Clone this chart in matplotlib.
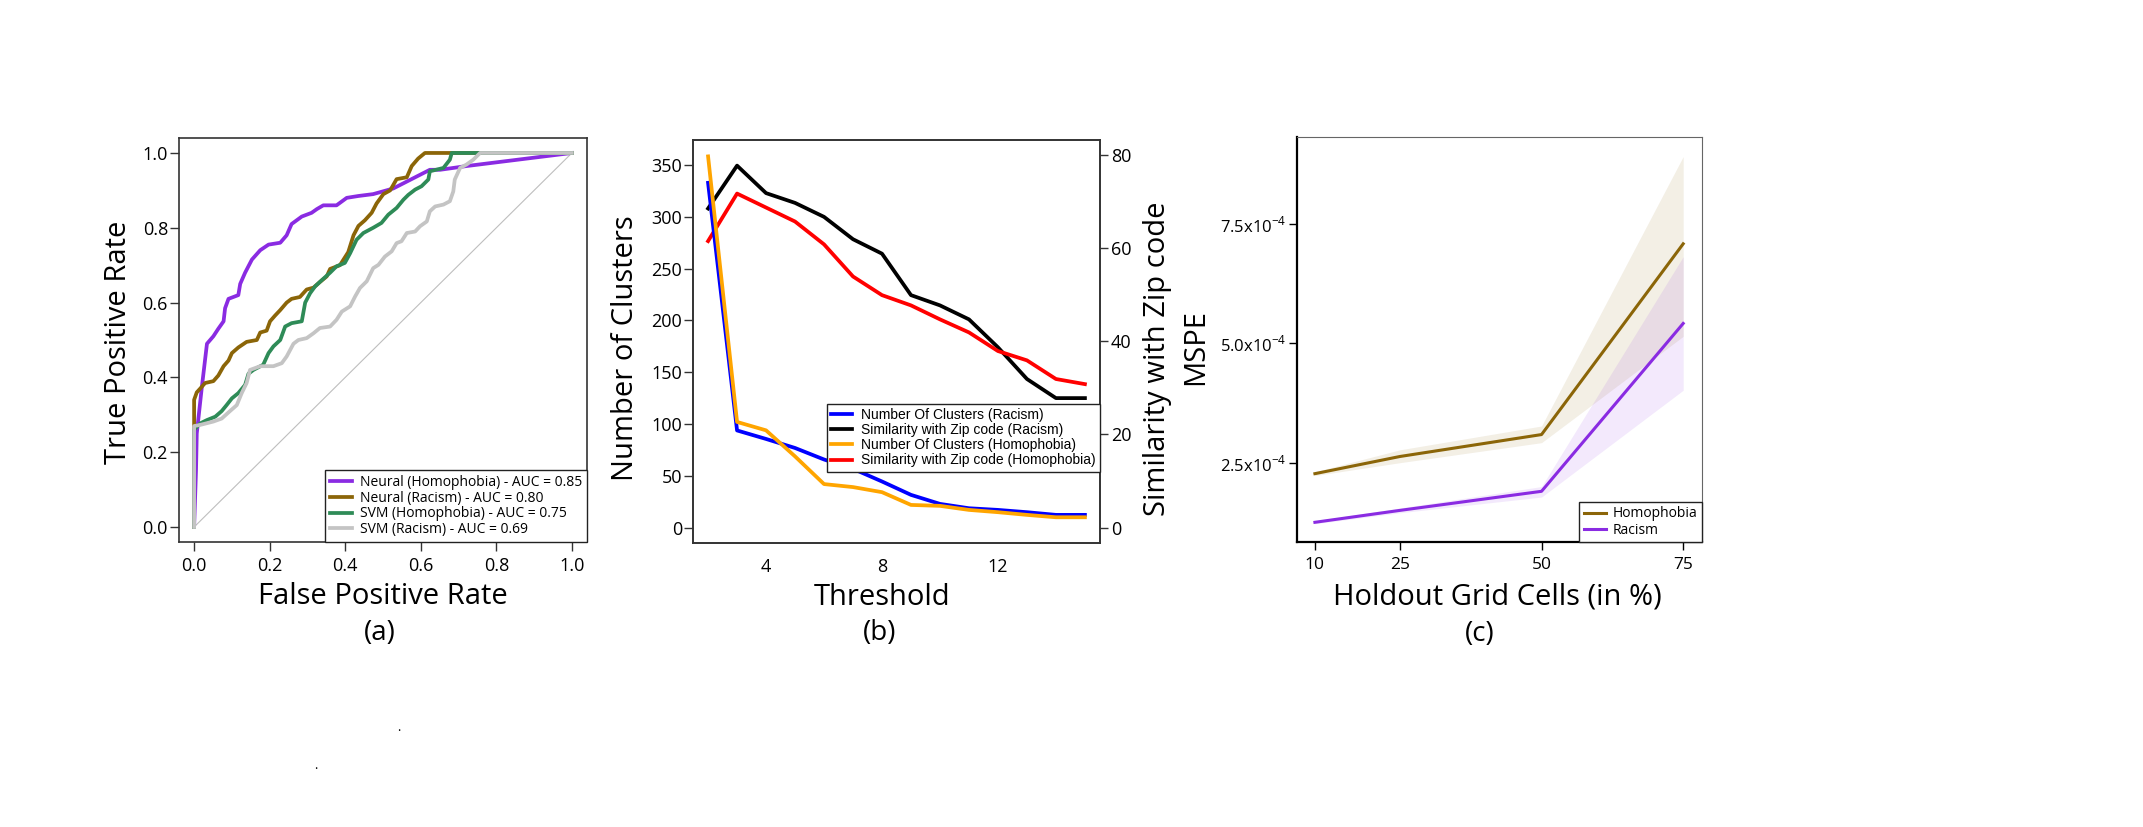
import matplotlib
matplotlib.use("Agg")
import matplotlib.pyplot as plt

plt.rcParams['font.family'] = ['Open Sans', 'DejaVu Sans']
plt.rcParams['mathtext.fontset'] = 'custom'
plt.rcParams['mathtext.rm'] = 'Open Sans'

#----------------------------------------------------------------------
# (a) ROC curves
neural_homo_fpr = [0, 0.005, 0.007, 0.02, 0.034, 0.051, 0.064, 0.078, 0.082, 0.091,
                   0.117, 0.122, 0.135, 0.153, 0.175, 0.197, 0.228, 0.245, 0.258, 0.285,
                   0.311, 0.325, 0.342, 0.377, 0.404, 0.435, 0.474, 0.527, 0.624, 0.651,
                   0.721, 1.0]
neural_homo_tpr = [0, 0.15, 0.25, 0.37, 0.49, 0.51, 0.53, 0.55, 0.585, 0.61,
                   0.62, 0.65, 0.68, 0.715, 0.74, 0.755, 0.76, 0.78, 0.81, 0.83,
                   0.84, 0.85, 0.86, 0.86, 0.88, 0.885, 0.89, 0.905, 0.955, 0.955,
                   0.965, 1.0]

neural_rac_fpr = [0, 0, 0.007, 0.016, 0.029, 0.051, 0.064, 0.078, 0.091, 0.1,
                  0.117, 0.139, 0.166, 0.175, 0.192, 0.201, 0.214, 0.228, 0.245, 0.258,
                  0.28, 0.298, 0.316, 0.333, 0.351, 0.36, 0.386, 0.408, 0.422, 0.435,
                  0.452, 0.47, 0.483, 0.501, 0.519, 0.536, 0.563, 0.576, 0.593, 0.611,
                  1.0]
neural_rac_tpr = [0, 0.34, 0.36, 0.37, 0.385, 0.39, 0.405, 0.43, 0.445, 0.465,
                  0.48, 0.495, 0.50, 0.52, 0.525, 0.55, 0.565, 0.58, 0.60, 0.61,
                  0.615, 0.635, 0.64, 0.655, 0.67, 0.69, 0.70, 0.735, 0.78, 0.805,
                  0.82, 0.84, 0.865, 0.89, 0.90, 0.93, 0.935, 0.965, 0.985, 1.0,
                  1.0]

svm_homo_fpr = [0, 0, 0.016, 0.034, 0.056, 0.073, 0.086, 0.1, 0.117, 0.135,
                0.144, 0.157, 0.183, 0.197, 0.21, 0.228, 0.241, 0.258, 0.285, 0.294,
                0.307, 0.32, 0.338, 0.36, 0.377, 0.399, 0.413, 0.43, 0.448, 0.474,
                0.496, 0.514, 0.536, 0.554, 0.567, 0.585, 0.602, 0.62, 0.624, 0.66,
                0.677, 0.682, 1.0]
svm_homo_tpr = [0, 0.26, 0.277, 0.286, 0.295, 0.31, 0.326, 0.344, 0.358, 0.38,
                0.41, 0.42, 0.434, 0.465, 0.483, 0.50, 0.536, 0.545, 0.55, 0.60,
                0.625, 0.643, 0.66, 0.68, 0.697, 0.706, 0.732, 0.768, 0.786, 0.80,
                0.813, 0.835, 0.853, 0.875, 0.888, 0.902, 0.911, 0.929, 0.951, 0.96,
                0.982, 1.0, 1.0]

svm_rac_fpr = [0, 0, 0.016, 0.051, 0.073, 0.095, 0.113, 0.126, 0.139, 0.148,
               0.175, 0.21, 0.232, 0.245, 0.263, 0.276, 0.298, 0.316, 0.333, 0.36,
               0.377, 0.391, 0.413, 0.426, 0.439, 0.457, 0.474, 0.488, 0.505, 0.523,
               0.536, 0.549, 0.563, 0.585, 0.598, 0.616, 0.624, 0.638, 0.66, 0.677,
               0.686, 0.69, 0.704, 0.721, 0.739, 0.757, 1.0]
svm_rac_tpr = [0, 0.27, 0.273, 0.282, 0.29, 0.31, 0.326, 0.358, 0.385, 0.42,
               0.43, 0.43, 0.438, 0.456, 0.49, 0.50, 0.505, 0.518, 0.532, 0.536,
               0.554, 0.576, 0.59, 0.616, 0.639, 0.657, 0.692, 0.701, 0.723, 0.737,
               0.759, 0.764, 0.786, 0.79, 0.804, 0.817, 0.844, 0.857, 0.862, 0.871,
               0.897, 0.929, 0.96, 0.969, 0.982, 1.0, 1.0]

roc_labels = ["Neural (Homophobia) - AUC = 0.85", "Neural (Racism) - AUC = 0.80",
              "SVM (Homophobia) - AUC = 0.75", "SVM (Racism) - AUC = 0.69"]

#----------------------------------------------------------------------
# (b) clusters vs threshold
threshold = [2, 3, 4, 5, 6, 7, 8, 9, 10, 11, 12, 13, 14, 15]
clusters_racism = [332.7, 94, 85.8, 77.1, 66, 57, 44.8, 31.9, 23.2, 19.0, 17.4, 15.2, 12.6, 12.6]
clusters_homophobia = [358.2, 102.2, 94.1, 69.0, 42.3, 39.4, 34.5, 22.2, 21.3, 17.4, 15.2, 12.6, 10.3, 10.3]
sim_racism = [68.5, 77.7, 71.8, 69.7, 66.7, 61.9, 58.8, 49.9, 47.7, 44.7, 38.7, 31.9, 27.8, 27.8]
sim_homophobia = [61.5, 71.7, 68.7, 65.7, 60.8, 53.9, 49.9, 47.7, 44.7, 41.9, 37.9, 35.9, 31.9, 30.8]
legend_b = ["Number Of Clusters (Racism)", "Similarity with Zip code (Racism)",
            "Number Of Clusters (Homophobia)", "Similarity with Zip code (Homophobia)"]

#----------------------------------------------------------------------
# (c) MSPE vs holdout
holdout = [10, 25, 50, 75]
homo_mspe = [2.27e-4, 2.63e-4, 3.09e-4, 7.09e-4]
homo_lo = [2.23e-4, 2.50e-4, 2.92e-4, 5.15e-4]
homo_hi = [2.31e-4, 2.77e-4, 3.27e-4, 8.92e-4]
rac_mspe = [1.25e-4, 1.50e-4, 1.90e-4, 5.42e-4]
rac_lo = [1.22e-4, 1.45e-4, 1.78e-4, 4.02e-4]
rac_hi = [1.28e-4, 1.55e-4, 2.00e-4, 6.82e-4]
mspe_ticks = [2.5e-4, 5.0e-4, 7.5e-4]
mspe_ticklabels = [r"2.5x10$^{\mathregular{-4}}$", r"5.0x10$^{\mathregular{-4}}$",
                   r"7.5x10$^{\mathregular{-4}}$"]

PURPLE = '#8A2BE2'
BROWN = '#8B6508'
GREEN = '#2E8B57'
GREY = '#C4C4C4'

LABEL_SIZE = 21
TICK_SIZE = 13

W, H = 2143, 827
fig = plt.figure(figsize=(W / 100, H / 100), dpi=100)


def add_ax(l, r, t, b):
    return fig.add_axes([l / W, 1 - b / H, (r - l) / W, (b - t) / H])


def style_box(ax, lw=1.2, color='#333333'):
    for s in ax.spines.values():
        s.set_linewidth(lw)
        s.set_color(color)


#----------------------------------------------------------------------
ax = add_ax(179, 587, 138, 542)
ax.plot([0, 1], [0, 1], color='#BEBEBE', lw=0.8)
ax.plot(neural_homo_fpr, neural_homo_tpr, color=PURPLE, lw=2.7, label=roc_labels[0])
ax.plot(neural_rac_fpr, neural_rac_tpr, color=BROWN, lw=2.7, label=roc_labels[1])
ax.plot(svm_homo_fpr, svm_homo_tpr, color=GREEN, lw=2.7, label=roc_labels[2])
ax.plot(svm_rac_fpr, svm_rac_tpr, color=GREY, lw=2.7, label=roc_labels[3])
ax.set_xlim(-0.04, 1.04)
ax.set_ylim(-0.04, 1.04)
ax.set_xticks([0, 0.2, 0.4, 0.6, 0.8, 1.0])
ax.set_yticks([0, 0.2, 0.4, 0.6, 0.8, 1.0])
ax.xaxis.set_major_formatter(plt.FormatStrFormatter('%.1f'))
ax.yaxis.set_major_formatter(plt.FormatStrFormatter('%.1f'))
ax.tick_params(axis='y', length=6.5, width=1, pad=1.5, labelsize=TICK_SIZE, color='#333333')
ax.tick_params(axis='x', length=6.5, width=1, pad=4.5, labelsize=TICK_SIZE, color='#333333')
style_box(ax)
ax.set_xlabel("False Positive Rate", fontsize=LABEL_SIZE)
ax.set_ylabel("True Positive Rate", fontsize=LABEL_SIZE)
ax.xaxis.set_label_coords(0.5, -0.136)
ax.xaxis.label.set_va('center')
ax.yaxis.set_label_coords(-0.148, 0.495)
ax.yaxis.label.set_va('center')
leg = ax.legend(loc='lower right', borderaxespad=0, fontsize=10, handlelength=1.6,
                handletextpad=0.55, labelspacing=0.05, borderpad=0.35, fancybox=False,
                framealpha=1, edgecolor='#222222')
leg.get_frame().set_linewidth(1.0)

#----------------------------------------------------------------------
bx = add_ax(693, 1100, 140, 543)
bx2 = bx.twinx()
bx.set_zorder(bx2.get_zorder() + 1)
bx.patch.set_visible(False)
l1, = bx.plot(threshold, clusters_racism, color='#0000FF', lw=2.7)
l2, = bx2.plot(threshold, sim_racism, color='black', lw=2.7)
l3, = bx.plot(threshold, clusters_homophobia, color='#FFA500', lw=2.7)
l4, = bx2.plot(threshold, sim_homophobia, color='#FF0000', lw=2.7)
bx.set_xlim(1.48, 15.52)
bx.set_ylim(-14.5, 374)
bx2.set_ylim(-3.3, 83.2)
bx.set_xticks([4, 8, 12])
bx.set_yticks([0, 50, 100, 150, 200, 250, 300, 350])
bx2.set_yticks([0, 20, 40, 60, 80])
bx.tick_params(axis='x', length=0, pad=10.5, labelsize=TICK_SIZE)
bx.tick_params(axis='y', length=6.5, width=1, pad=1.5, labelsize=TICK_SIZE, color='#333333')
bx2.tick_params(axis='y', length=6, width=1, pad=2, labelsize=TICK_SIZE, color='#333333')
style_box(bx)
style_box(bx2)
bx.set_xlabel("Threshold", fontsize=LABEL_SIZE)
bx.xaxis.set_label_coords(0.464, -0.134)
bx.xaxis.label.set_va('center')
bx.set_ylabel("Number of Clusters", fontsize=LABEL_SIZE)
bx.yaxis.set_label_coords(-0.165, 0.484)
bx.yaxis.label.set_va('center')
bx2.set_ylabel("Similarity with Zip code", fontsize=LABEL_SIZE)
bx2.yaxis.set_label_coords(1.1425, 0.457)
bx2.yaxis.label.set_va('center')
leg = bx.legend([l1, l2, l3, l4], legend_b,
                loc='upper right', bbox_to_anchor=(1, 0.345), borderaxespad=0,
                prop={'family': 'Liberation Sans', 'size': 10}, handlelength=1.5,
                handletextpad=0.65, labelspacing=0.08, borderpad=0.3, fancybox=False,
                framealpha=1, edgecolor='#222222')
leg.get_frame().set_linewidth(1.0)

#----------------------------------------------------------------------
cx = add_ax(1296.5, 1701.6, 137, 542)
cx.fill_between(holdout, homo_lo, homo_hi, color=BROWN, alpha=0.1, lw=0)
cx.fill_between(holdout, rac_lo, rac_hi, color=PURPLE, alpha=0.1, lw=0)
cx.plot(holdout, homo_mspe, color=BROWN, lw=2.2, label="Homophobia")
cx.plot(holdout, rac_mspe, color=PURPLE, lw=2.2, label="Racism")
cx.set_xlim(6.75, 78.25)
cx.set_ylim(0.837e-4, 9.33e-4)
cx.set_xticks(holdout)
cx.set_yticks(mspe_ticks)
cx.set_yticklabels(mspe_ticklabels)
cx.tick_params(axis='x', length=6, width=1, pad=5, labelsize=12.5)
cx.tick_params(axis='y', length=6, width=1, pad=1.5, labelsize=12)
for s in ['top', 'right']:
    cx.spines[s].set_linewidth(0.8)
    cx.spines[s].set_color('#666666')
for s in ['left', 'bottom']:
    cx.spines[s].set_linewidth(1.6)
    cx.spines[s].set_color('black')
cx.set_xlabel("Holdout Grid Cells (in %)", fontsize=LABEL_SIZE)
cx.xaxis.set_label_coords(0.495, -0.136)
cx.xaxis.label.set_va('center')
cx.set_ylabel("MSPE", fontsize=LABEL_SIZE)
cx.yaxis.set_label_coords(-0.248, 0.481)
cx.yaxis.label.set_va('center')
leg = cx.legend(loc='lower right', borderaxespad=0, fontsize=10, handlelength=1.65,
                handletextpad=0.45, labelspacing=0.1, borderpad=0.3, fancybox=False,
                framealpha=1, edgecolor='#222222')
leg.get_frame().set_linewidth(1.0)

#----------------------------------------------------------------------
# panel tags and stray dots
fig.text(380 / W, 1 - 633 / H, "(a)", fontsize=20, ha='center', va='center')
fig.text(880 / W, 1 - 633 / H, "(b)", fontsize=20, ha='center', va='center')
fig.text(1480 / W, 1 - 634 / H, "(c)", fontsize=20, ha='center', va='center')
fig.text(399 / W, 1 - 731 / H, ".", fontsize=9, ha='center', va='baseline')
fig.text(316 / W, 1 - 769 / H, ".", fontsize=9, ha='center', va='baseline')

fig.savefig("out.png", dpi=100)
